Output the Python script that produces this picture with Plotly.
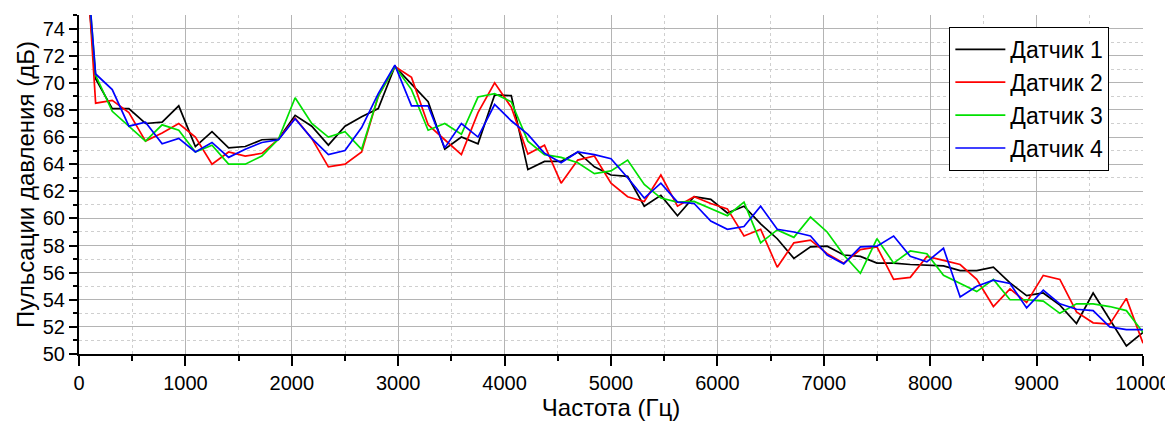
import plotly.graph_objects as go

freq = [0, 156.25, 312.5, 468.75, 625, 781.25, 937.5, 1093.75, 1250, 1406.25,
        1562.5, 1718.75, 1875, 2031.25, 2187.5, 2343.75, 2500, 2656.25, 2812.5, 2968.75,
        3125, 3281.25, 3437.5, 3593.75, 3750, 3906.25, 4062.5, 4218.75, 4375, 4531.25,
        4687.5, 4843.75, 5000, 5156.25, 5312.5, 5468.75, 5625, 5781.25, 5937.5, 6093.75,
        6250, 6406.25, 6562.5, 6718.75, 6875, 7031.25, 7187.5, 7343.75, 7500, 7656.25,
        7812.5, 7968.75, 8125, 8281.25, 8437.5, 8593.75, 8750, 8906.25, 9062.5, 9218.75,
        9375, 9531.25, 9687.5, 9843.75, 10000]

sensor1 = [84.5, 70.3, 68.1, 68.1, 67.0, 67.1, 68.3, 65.3, 66.4, 65.2,
           65.3, 65.8, 65.85, 67.6, 66.8, 65.4, 66.8, 67.5, 68.1, 71.2,
           69.9, 68.6, 65.1, 66.0, 65.5, 69.1, 69.05, 63.6, 64.2, 64.2,
           64.9, 63.8, 63.2, 63.1, 60.9, 61.7, 60.2, 61.6, 61.4, 60.4,
           60.9, 59.6, 58.5, 57.05, 57.9, 57.95, 57.3, 57.2, 56.7, 56.7,
           56.6, 56.55, 56.5, 56.15, 56.15, 56.4, 55.25, 54.3, 54.5, 53.6,
           52.25, 54.5, 52.6, 50.6, 51.6]

sensor2 = [88.0, 68.5, 68.7, 67.8, 65.7, 66.3, 67.0, 66.0, 64.0, 64.9,
           64.6, 64.8, 65.85, 67.4, 65.9, 63.8, 64.0, 64.9, 69.0, 71.2,
           70.4, 66.9, 65.8, 64.7, 67.8, 70.0, 68.2, 64.75, 65.4, 62.6,
           64.3, 64.6, 62.6, 61.6, 61.25, 63.2, 60.9, 61.6, 61.1, 60.7,
           58.7, 59.2, 56.4, 58.2, 58.4, 57.4, 56.7, 57.7, 57.9, 55.5,
           55.65, 57.2, 56.9, 56.6, 55.5, 53.5, 54.8, 53.8, 55.8, 55.5,
           53.1, 52.3, 52.2, 54.1, 50.8]

sensor3 = [86.0, 70.55, 67.9, 66.8, 65.7, 66.9, 66.5, 64.9, 65.4, 64.0,
           64.0, 64.6, 65.85, 68.9, 67.0, 66.0, 66.4, 65.1, 69.0, 71.2,
           69.5, 66.5, 67.0, 66.2, 68.95, 69.2, 68.6, 65.7, 64.7, 64.5,
           64.1, 63.3, 63.5, 64.3, 62.5, 61.5, 61.2, 61.25, 60.7, 60.2,
           61.2, 58.2, 59.15, 58.6, 60.1, 59.0, 57.3, 55.95, 58.5, 56.7,
           57.6, 57.4, 55.8, 55.2, 54.6, 55.5, 54.0, 54.0, 53.9, 53.0,
           53.7, 53.7, 53.5, 53.2, 51.6]

sensor4 = [86.0, 70.65, 69.5, 66.8, 67.1, 65.5, 65.9, 64.9, 65.6, 64.5,
           65.1, 65.6, 65.8, 67.35, 65.9, 64.7, 65.0, 66.7, 69.2, 71.3,
           68.3, 68.3, 65.2, 67.0, 66.0, 68.4, 67.2, 66.2, 64.8, 64.1,
           64.9, 64.7, 64.4, 63.0, 61.5, 62.6, 61.2, 61.1, 59.8, 59.2,
           59.4, 60.9, 59.2, 59.0, 58.7, 57.3, 56.65, 57.9, 57.95, 58.7,
           57.2, 56.8, 57.8, 54.2, 55.0, 55.45, 55.2, 53.4, 54.7, 53.7,
           53.3, 53.2, 52.0, 51.8, 51.8]

names = ["Датчик 1", "Датчик 2", "Датчик 3", "Датчик 4"]
colors = ["#000000", "#ff0000", "#00e000", "#0000ff"]
series = [sensor1, sensor2, sensor3, sensor4]

FONT = "Liberation Sans, Arial, sans-serif"

fig = go.Figure()
for name, color, vals in zip(names, colors, series):
    fig.add_trace(go.Scatter(x=freq, y=vals, mode="lines", name=name,
                             line=dict(color=color, width=1.7)))

# page body has an 8px default margin, so the figure is sized to fit the window
fig.update_layout(
    width=1165, height=413,
    margin=dict(l=71, r=30, t=7, b=67),
    paper_bgcolor="white", plot_bgcolor="white",
    font=dict(family=FONT, size=20, color="black"),
    showlegend=True,
    legend=dict(x=0.818, y=0.965, xanchor="left", yanchor="top",
                bgcolor="white", bordercolor="black", borderwidth=1,
                font=dict(family=FONT, size=23, color="black"),
                itemwidth=50, tracegroupgap=0),
)

fig.update_xaxes(
    range=[0, 10000], dtick=1000, tick0=0, tickformat="d",
    automargin=False,
    showline=True, linecolor="black", linewidth=2,
    ticks="outside", ticklen=10, tickwidth=2, tickcolor="black",
    showgrid=True, gridcolor="#b4b4b4", gridwidth=1.2,
    zeroline=False,
    minor=dict(dtick=500, tick0=0, ticks="outside", ticklen=5, tickwidth=2,
               tickcolor="black", showgrid=True, gridcolor="#cfcfcf",
               griddash="dot", gridwidth=1),
    tickfont=dict(family=FONT, size=20, color="black"),
    title=dict(text="Частота (Гц)", font=dict(family=FONT, size=24, color="black"),
               standoff=4),
)

fig.update_yaxes(
    range=[50, 75], dtick=2, tick0=50,
    automargin=False,
    showline=True, linecolor="black", linewidth=2,
    ticks="outside", ticklen=8, tickwidth=2, tickcolor="black",
    showgrid=True, gridcolor="#b4b4b4", gridwidth=1.2,
    zeroline=False,
    minor=dict(dtick=1, tick0=50, ticks="outside", ticklen=4, tickwidth=1.5,
               tickcolor="black", showgrid=True, gridcolor="#cfcfcf",
               griddash="dot", gridwidth=1),
    tickfont=dict(family=FONT, size=20, color="black"),
    title=dict(text="Пульсации давления (дБ)", font=dict(family=FONT, size=24, color="black"),
               standoff=1),
)

fig.write_html("out.html")
